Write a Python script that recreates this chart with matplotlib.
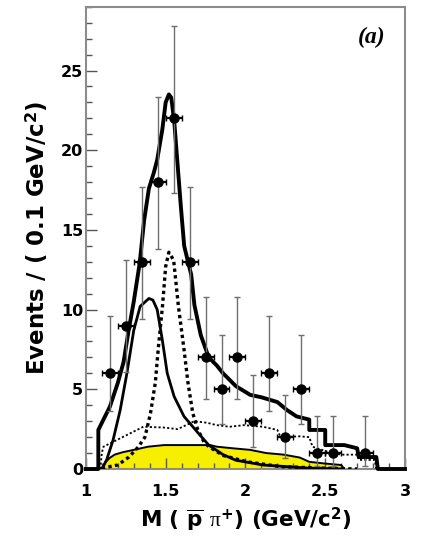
import numpy as np
import matplotlib
matplotlib.use("Agg")
import matplotlib.pyplot as plt
from matplotlib.ticker import MultipleLocator

plt.rcParams['font.family'] = ['DejaVu Sans']
plt.rcParams['mathtext.fontset'] = 'custom'
plt.rcParams['mathtext.rm'] = 'DejaVu Sans:bold'
plt.rcParams['mathtext.bf'] = 'DejaVu Sans:bold'
plt.rcParams['mathtext.it'] = 'Liberation Serif'

# binned data, 0.1 GeV/c^2 bins
mass = [1.15, 1.25, 1.35, 1.45, 1.55, 1.65, 1.75, 1.85, 1.95, 2.05,
        2.15, 2.25, 2.35, 2.45, 2.55, 2.75]
events = [6, 9, 13, 18, 22, 13, 7, 5, 7, 3, 6, 2, 5, 1, 1, 1]
err_lo = [2.38, 2.94, 3.58, 4.22, 4.67, 3.58, 2.58, 2.16, 2.58, 1.63,
          2.38, 1.29, 2.16, 0.83, 0.83, 0.83]
err_hi = [3.58, 4.11, 4.71, 5.33, 5.77, 4.71, 3.77, 3.38, 3.77, 2.92,
          3.58, 2.64, 3.38, 2.30, 2.30, 2.30]
bin_half = 0.05

# full fit
total_x = [1.00, 1.078, 1.078, 1.11, 1.15, 1.20, 1.236, 1.268, 1.30, 1.337,
           1.365, 1.395, 1.426, 1.447, 1.479, 1.50, 1.52, 1.535, 1.553, 1.574,
           1.595, 1.616, 1.64, 1.66, 1.68, 1.72, 1.77, 1.82, 1.86, 1.94,
           2.03, 2.10, 2.20, 2.26, 2.32, 2.40, 2.40, 2.50, 2.50, 2.62,
           2.70, 2.71, 2.82, 2.83, 3.00]
total_y = [0, 0, 2.45, 3.1, 3.9, 5.4, 6.7, 8.7, 10.5, 12.9,
           15.6, 17.6, 18.6, 19.4, 21.3, 23.0, 23.5, 23.3, 21.9, 19.2,
           16.5, 14.0, 13.0, 12.2, 10.3, 8.4, 7.0, 6.5, 6.0, 5.2,
           4.65, 4.5, 4.2, 3.7, 3.3, 3.1, 2.45, 2.45, 1.5, 1.5,
           1.3, 0.75, 0.75, 0, 0]

# lower resonance (solid)
res1_x = [1.10, 1.13, 1.17, 1.215, 1.257, 1.30, 1.34, 1.395, 1.42, 1.447,
          1.479, 1.51, 1.553, 1.615, 1.70, 1.77, 1.86, 1.94, 2.11, 2.39, 2.60]
res1_y = [0.0, 0.57, 1.8, 3.7, 6.0, 8.7, 10.2, 10.7, 10.6, 10.0,
          8.1, 6.0, 4.55, 3.3, 2.3, 1.5, 0.9, 0.55, 0.25, 0.06, 0.0]

# upper resonance (dotted)
res2_x = [1.10, 1.14, 1.20, 1.27, 1.33, 1.37, 1.405, 1.435, 1.455, 1.48,
          1.50, 1.52, 1.55, 1.58, 1.615, 1.64, 1.67, 1.70, 1.74, 1.77,
          1.86, 2.01, 2.22, 2.50, 2.70]
res2_y = [0.05, 0.13, 0.25, 0.75, 1.4, 2.0, 3.5, 5.4, 7.7, 10.2,
          12.7, 13.6, 13.1, 10.2, 7.5, 5.4, 3.5, 2.5, 1.7, 1.4,
          0.85, 0.45, 0.15, 0.05, 0.0]

# non-resonant part (fine dots)
bkg_x = [1.09, 1.10, 1.11, 1.17, 1.28, 1.36, 1.49, 1.575, 1.68, 1.76,
         1.82, 1.90, 1.99, 2.11, 2.20, 2.22, 2.34, 2.40, 2.42, 2.51,
         2.60, 2.70, 2.71, 2.81, 2.82]
bkg_y = [0, 1.0, 1.4, 1.7, 2.25, 2.65, 2.6, 2.5, 3.0, 2.9,
         2.75, 2.65, 2.75, 2.65, 2.45, 2.0, 2.05, 2.0, 1.4, 1.1,
         0.9, 0.9, 0.57, 0.57, 0]

# sideband background (yellow)
side_x = [1.09, 1.11, 1.12, 1.15, 1.18, 1.23, 1.30, 1.39, 1.49, 1.78,
          1.82, 1.92, 2.03, 2.13, 2.24, 2.34, 2.40, 2.49, 2.60, 2.62]
side_y = [0, 0.1, 0.4, 0.7, 0.9, 1.05, 1.2, 1.4, 1.5, 1.5,
          1.4, 1.3, 1.2, 1.0, 0.9, 0.72, 0.45, 0.35, 0.25, 0]

fig = plt.figure(figsize=(4.21, 5.47), dpi=100)
ax = fig.add_axes([0.204, 0.1426, 0.758, 0.845])

ax.fill_between(side_x, side_y, 0, color='#f6f000', lw=0, zorder=1)
ax.plot(side_x, side_y, color='black', lw=1.4, zorder=2)

ax.plot(bkg_x, bkg_y, color='black', lw=1.3, ls=(0, (1.2, 1.2)), zorder=3)
ax.plot(res2_x, res2_y, color='black', lw=2.4, ls=(0, (1, 1)), zorder=3)
ax.plot(res1_x, res1_y, color='black', lw=2.0, zorder=3)
ax.plot(total_x, total_y, color='black', lw=2.8, zorder=4, clip_on=False,
        solid_joinstyle='round')

# vertical (Poisson) errors in grey, bin width in black
ax.errorbar(mass, events, yerr=[err_lo, err_hi], fmt='none', ecolor='#6e6e6e',
            elinewidth=1.0, capsize=2.2, capthick=1.0, zorder=5)
ax.errorbar(mass, events, xerr=bin_half, fmt='none', ecolor='black',
            elinewidth=1.6, capsize=2.0, capthick=1.0, zorder=5)
ax.plot(mass, events, 'o', color='black', ms=6.5, zorder=6)

ax.set_xlim(1, 3)
ax.set_ylim(0, 29)
ax.xaxis.set_major_locator(MultipleLocator(0.5))
ax.xaxis.set_minor_locator(MultipleLocator(0.1))
ax.yaxis.set_major_locator(MultipleLocator(5))
ax.yaxis.set_minor_locator(MultipleLocator(1))
ax.set_xticks([1, 1.5, 2, 2.5, 3])
ax.set_xticklabels(['1', '1.5', '2', '2.5', '3'])
ax.tick_params(which='both', direction='in', color='#555555', width=1.0,
               labelsize=11.5)
ax.tick_params(axis='x', which='both', pad=11)
ax.tick_params(axis='y', which='both', pad=2)
ax.tick_params(which='major', length=8)
ax.tick_params(which='minor', length=4)
for lab in ax.get_xticklabels() + ax.get_yticklabels():
    lab.set_fontweight('bold')
for sp in ax.spines.values():
    sp.set_color('#8c8c8c')
    sp.set_linewidth(1.5)

ax.set_xlabel(r'M ( $\overline{\mathbf{p}}$ $\mathit{\pi}^{+}$) (GeV/c$^{\mathbf{2}}$)',
              fontsize=15.5, fontweight='bold', labelpad=4)
ax.set_ylabel(r'Events / ( 0.1 GeV/c$^{\mathbf{2}}$)', fontsize=16.5,
              fontweight='bold', labelpad=8)

ax.text(0.94, 0.933, '(a)', transform=ax.transAxes, ha='right', va='center',
        fontsize=17, fontweight='bold', fontstyle='italic',
        family='Liberation Serif')

fig.savefig('out.png', dpi=100)
